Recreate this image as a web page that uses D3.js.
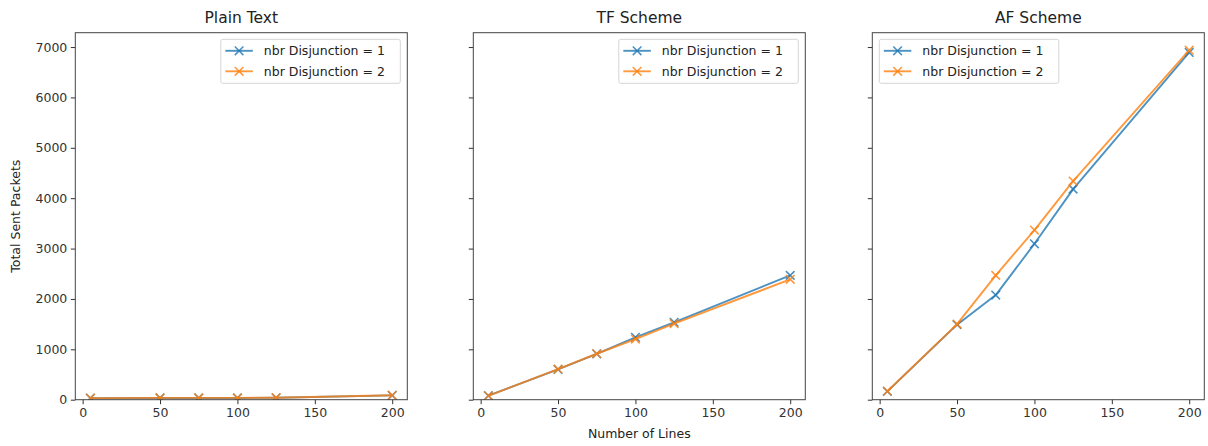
<!DOCTYPE html>
<html>
<head>
<meta charset="utf-8">
<script src="https://cdn.jsdelivr.net/npm/d3@7"></script>
<style>
  html, body { margin: 0; padding: 0; background: #fff; }
  svg { display: block; font-family: "DejaVu Sans", sans-serif; }
</style>
</head>
<body>
<svg id="chart" width="1208" height="446"></svg>
<script>
// Number of lines processed (x values)
const lines = [5, 50, 75, 100, 125, 200];

// Total sent packets per scheme, for one and two disjunctions
const plainD1 = [30, 35, 35, 35, 38, 85];
const plainD2 = [32, 36, 36, 36, 40, 88];
const tfD1 = [80, 600, 910, 1238, 1536, 2468];
const tfD2 = [78, 605, 912, 1204, 1508, 2389];
const afD1 = [165, 1490, 2077, 3095, 4180, 6893];
const afD2 = [168, 1500, 2468, 3367, 4339, 6938];

const panelTitles = ["Plain Text", "TF Scheme", "AF Scheme"];
const seriesNames = ["nbr Disjunction = 1", "nbr Disjunction = 2"];
const xTicks = [0, 50, 100, 150, 200];
const yTicks = [0, 1000, 2000, 3000, 4000, 5000, 6000, 7000];

const panels = [
  { title: panelTitles[0], series: [plainD1, plainD2], legend: "right" },
  { title: panelTitles[1], series: [tfD1, tfD2], legend: "right" },
  { title: panelTitles[2], series: [afD1, afD2], legend: "left" }
];

const colors = ["#1f77b4", "#ff7f0e"];
const svg = d3.select("#chart");

const axLefts = [75.3, 473.3, 872.3];
const axW = 332;
const axTop = 32.7, axBottom = 399.7;

// shared axis ranges: x padded 5% on both sides, y from 0 to 5% above max
const xMin = d3.min(lines), xMax = d3.max(lines);
const xPad = (xMax - xMin) * 0.05;
const allY = panels.flatMap(p => p.series.flat());
const yMaxData = d3.max(allY);
const y = d3.scaleLinear().domain([0, yMaxData * 1.05]).range([axBottom, axTop]);

const tickFont = 12.5;

panels.forEach((p, i) => {
  const left = axLefts[i];
  const x = d3.scaleLinear().domain([xMin - xPad, xMax + xPad]).range([left, left + axW]);
  const g = svg.append("g");

  // x axis
  const xAxis = d3.axisBottom(x).tickValues(xTicks).tickSizeOuter(0).tickSize(4.5).tickPadding(3.5);
  const gx = g.append("g").attr("transform", `translate(0,${axBottom})`).call(xAxis);
  gx.select(".domain").remove();
  gx.selectAll(".tick line").attr("stroke", "#333").attr("stroke-width", 1);
  gx.selectAll(".tick text").attr("font-size", tickFont).attr("fill", "#333")
    .attr("font-family", "DejaVu Sans");

  // y axis (labels only on first panel)
  const yAxis = d3.axisLeft(y).tickValues(yTicks).tickSizeOuter(0).tickSize(4.5).tickPadding(3.5)
    .tickFormat(i === 0 ? d3.format("d") : () => "");
  const gy = g.append("g").attr("transform", `translate(${left},0)`).call(yAxis);
  gy.select(".domain").remove();
  gy.selectAll(".tick line").attr("stroke", "#333").attr("stroke-width", 1);
  gy.selectAll(".tick text").attr("font-size", tickFont).attr("fill", "#333")
    .attr("font-family", "DejaVu Sans");

  // clip for plot contents
  const clipId = "clip" + i;
  svg.append("clipPath").attr("id", clipId).append("rect")
    .attr("x", left).attr("y", axTop).attr("width", axW).attr("height", axBottom - axTop);

  const plot = g.append("g").attr("clip-path", `url(#${clipId})`);
  const line = d3.line().x((d, k) => x(lines[k])).y(d => y(d));

  p.series.forEach((vals, s) => {
    plot.append("path").datum(vals)
      .attr("d", line)
      .attr("fill", "none")
      .attr("stroke", colors[s])
      .attr("stroke-width", 1.9)
      .attr("stroke-opacity", 0.8)
      .attr("stroke-linejoin", "round");
    const ms = 4.3;
    plot.selectAll(null).data(vals).enter().append("path")
      .attr("d", (d, k) => {
        const cx = x(lines[k]), cy = y(d);
        return `M${cx - ms},${cy - ms}L${cx + ms},${cy + ms}M${cx - ms},${cy + ms}L${cx + ms},${cy - ms}`;
      })
      .attr("stroke", colors[s])
      .attr("stroke-width", 1.6)
      .attr("stroke-opacity", 0.8);
  });

  // frame
  g.append("rect").attr("x", left).attr("y", axTop).attr("width", axW).attr("height", axBottom - axTop)
    .attr("fill", "none").attr("stroke", "#444").attr("stroke-width", 1);

  // title
  g.append("text").attr("x", left + axW / 2).attr("y", 23).attr("text-anchor", "middle")
    .attr("font-size", 15.5).attr("fill", "#222").text(p.title);

  // legend
  const lgW = 179.5, lgH = 44;
  const lgX = p.legend === "right" ? left + axW - 7 - lgW : left + 7;
  const lgY = 39.3;
  const lg = g.append("g").attr("transform", `translate(${lgX},${lgY})`);
  lg.append("rect").attr("width", lgW).attr("height", lgH).attr("rx", 2)
    .attr("fill", "#fff").attr("fill-opacity", 0.8).attr("stroke", "#d5d5d5").attr("stroke-width", 1);
  seriesNames.forEach((name, s) => {
    const ly = 11.5 + s * 20.5;
    lg.append("line").attr("x1", 4.5).attr("x2", 32).attr("y1", ly).attr("y2", ly)
      .attr("stroke", colors[s]).attr("stroke-width", 1.9).attr("stroke-opacity", 0.8);
    const cx = 18.3, m = 4.3;
    lg.append("path")
      .attr("d", `M${cx - m},${ly - m}L${cx + m},${ly + m}M${cx - m},${ly + m}L${cx + m},${ly - m}`)
      .attr("stroke", colors[s]).attr("stroke-width", 1.6).attr("stroke-opacity", 0.8);
    lg.append("text").attr("x", 43).attr("y", ly + 4.5).attr("font-size", tickFont)
      .attr("fill", "#222").text(name);
  });
});

// shared axis labels
svg.append("text").attr("x", axLefts[1] + axW / 2).attr("y", 438).attr("text-anchor", "middle")
  .attr("font-size", tickFont).attr("fill", "#222").text("Number of Lines");
svg.append("text").attr("transform", `translate(20,${(axTop + axBottom) / 2}) rotate(-90)`)
  .attr("text-anchor", "middle").attr("font-size", tickFont).attr("fill", "#222").text("Total Sent Packets");
</script>
</body>
</html>
